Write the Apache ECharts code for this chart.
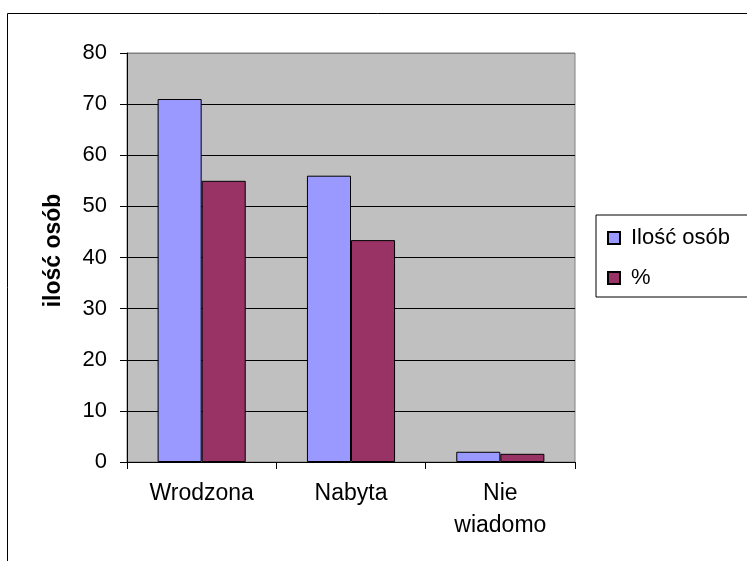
<!DOCTYPE html>
<html>
<head>
<meta charset="utf-8">
<script src="https://cdn.jsdelivr.net/npm/echarts@6/dist/echarts.min.js"></script>
<style>
html, body { margin: 0; padding: 0; background: #fff; }
#chart { width: 747px; height: 561px; }
</style>
</head>
<body>
<div id="chart"></div>
<script>
var categories = ['Wrodzona', 'Nabyta', 'Nie wiadomo'];
var iloscOsob = [71, 56, 2];
var procent = [55.0, 43.4, 1.6];
var seriesNames = ['Ilość osób', '%'];
var yTitle = 'ilość osób';

var font = 'Liberation Sans, Arial, sans-serif';
var chart = echarts.init(document.getElementById('chart'));

option = {
    animation: false,
    backgroundColor: '#fff',
    textStyle: { fontFamily: font },
    graphic: [
        {
            type: 'rect',
            shape: { x: 7.5, y: 13.5, width: 800, height: 600 },
            style: { fill: 'none', stroke: '#000', lineWidth: 1 },
            silent: true
        }
    ],
    grid: {
        left: 127, top: 53, right: 172, bottom: 99,
        show: true,
        backgroundColor: '#C0C0C0',
        borderColor: '#808080',
        borderWidth: 1
    },
    legend: {
        orient: 'vertical',
        left: 596, top: 215,
        padding: [11, 60, 7, 11],
        itemGap: 16,
        itemWidth: 12, itemHeight: 12,
        icon: 'rect',
        borderColor: '#000', borderWidth: 1,
        backgroundColor: '#fff',
        textStyle: {
            fontSize: 22, color: '#000', lineHeight: 24, fontFamily: font,
            padding: [0, 0, 0, 6]
        },
        data: seriesNames
    },
    xAxis: {
        type: 'category',
        data: categories,
        axisLine: { lineStyle: { color: '#000', width: 1 } },
        axisTick: { show: true, length: 7, lineStyle: { color: '#000' } },
        axisLabel: {
            fontSize: 23, color: '#000', margin: 16, lineHeight: 32,
            fontFamily: font,
            formatter: function (v) { return v.replace(' ', '\n'); }
        }
    },
    yAxis: {
        type: 'value',
        min: 0, max: 80, interval: 10,
        name: yTitle,
        nameLocation: 'middle',
        nameRotate: 90,
        nameGap: 62,
        nameTextStyle: {
            fontSize: 23, fontWeight: 'bold', color: '#000', fontFamily: font,
            padding: [0, 0, 0, 14]
        },
        axisLine: { show: true, lineStyle: { color: '#000', width: 1 } },
        axisTick: { show: true, length: 7, lineStyle: { color: '#000' } },
        axisLabel: { fontSize: 22, color: '#000', margin: 20, fontFamily: font },
        splitLine: {
            show: true,
            lineStyle: {
                color: ['#000', '#000', '#000', '#000', '#000', '#000', '#000', '#000', '#808080'],
                width: 1
            }
        }
    },
    series: [
        {
            name: seriesNames[0],
            type: 'bar',
            data: iloscOsob,
            barGap: '0%',
            barCategoryGap: '41%',
            itemStyle: { color: '#9999FF', borderColor: '#000', borderWidth: 1 }
        },
        {
            name: seriesNames[1],
            type: 'bar',
            data: procent,
            itemStyle: { color: '#993366', borderColor: '#000', borderWidth: 1 }
        }
    ]
};
chart.setOption(option);
</script>
</body>
</html>
